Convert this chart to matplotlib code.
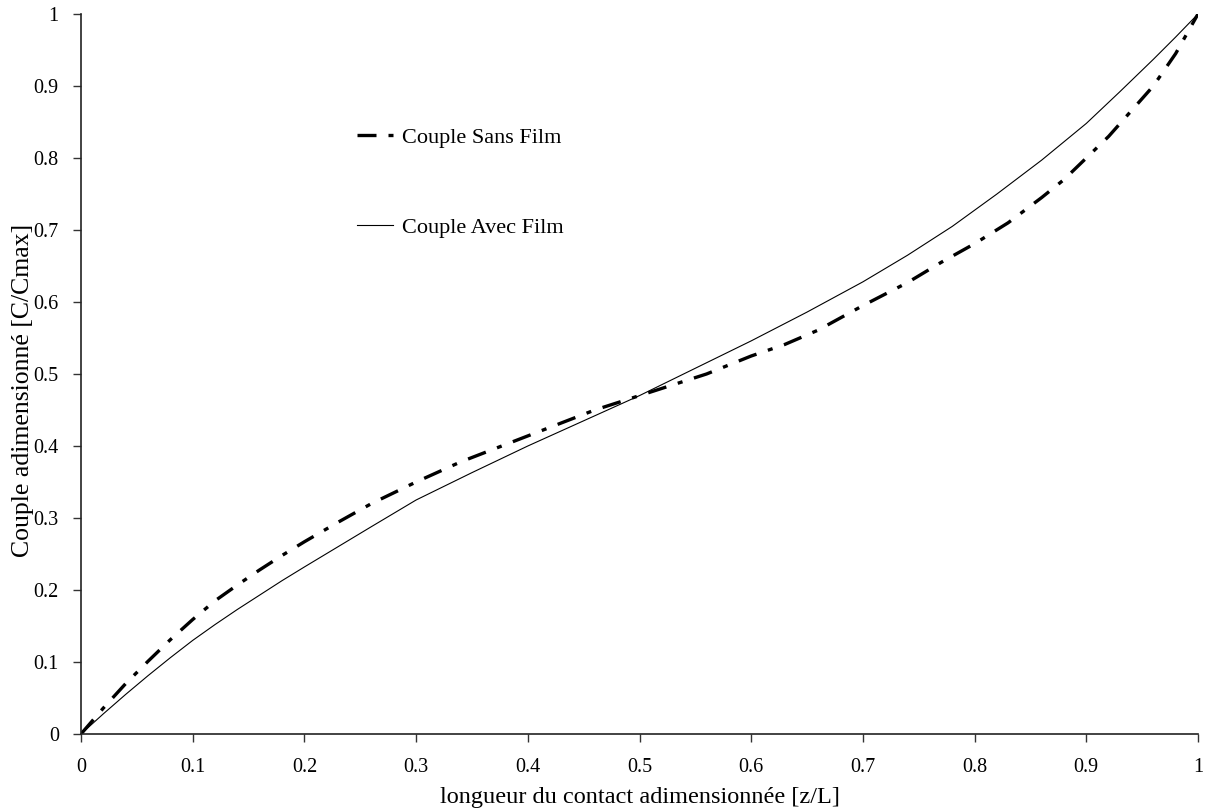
import matplotlib
matplotlib.use("Agg")
import matplotlib.pyplot as plt

plt.rcParams['font.family'] = ['Liberation Serif', 'DejaVu Serif']

# Data
x_sans = [0.0, 0.02, 0.04, 0.06, 0.08, 0.10, 0.12, 0.14, 0.16, 0.18, 0.20, 0.23, 0.26,
          0.30, 0.34, 0.38, 0.42, 0.46, 0.50, 0.53, 0.56, 0.60, 0.63, 0.66, 0.70, 0.74,
          0.77, 0.80, 0.83, 0.86, 0.88, 0.90, 0.92, 0.94, 0.96, 0.98, 1.0]
y_sans = [0.0, 0.036, 0.07, 0.101, 0.131, 0.159, 0.185, 0.207, 0.228, 0.248, 0.267, 0.294, 0.32,
          0.35, 0.378, 0.402, 0.426, 0.45, 0.47, 0.485, 0.50, 0.525, 0.541, 0.561, 0.595, 0.627,
          0.655, 0.681, 0.71, 0.745, 0.77, 0.80, 0.83, 0.865, 0.90, 0.945, 1.0]

x_avec = [0.0, 0.02, 0.04, 0.06, 0.08, 0.10, 0.12, 0.14, 0.16, 0.18, 0.20, 0.23, 0.26,
          0.30, 0.35, 0.40, 0.45, 0.50, 0.55, 0.60, 0.65, 0.70, 0.74, 0.78, 0.82, 0.86,
          0.90, 0.93, 0.96, 0.98, 1.0]
y_avec = [0.0, 0.028, 0.055, 0.081, 0.106, 0.13, 0.152, 0.173, 0.193, 0.213, 0.232, 0.26, 0.288,
          0.325, 0.363, 0.40, 0.435, 0.47, 0.508, 0.546, 0.586, 0.628, 0.665, 0.705, 0.75, 0.797,
          0.848, 0.892, 0.937, 0.968, 1.0]

x_ticks = [0, 0.1, 0.2, 0.3, 0.4, 0.5, 0.6, 0.7, 0.8, 0.9, 1]
x_tick_labels = ['0', '0.1', '0.2', '0.3', '0.4', '0.5', '0.6', '0.7', '0.8', '0.9', '1']
y_ticks = [0, 0.1, 0.2, 0.3, 0.4, 0.5, 0.6, 0.7, 0.8, 0.9, 1]
y_tick_labels = ['0', '0.1', '0.2', '0.3', '0.4', '0.5', '0.6', '0.7', '0.8', '0.9', '1']

fig = plt.figure(figsize=(12.09, 8.11), dpi=100)
ax = fig.add_axes([81/1209, 1-734/811, (1198-81)/1209, (734-14)/811])

l1, = ax.plot(x_sans, y_sans, color='black', lw=2.4, label='Couple Sans Film')
l1.set_dashes((5.7, 3.6, 1.5, 3.6))
ax.plot(x_avec, y_avec, color='black', lw=0.8, label='Couple Avec Film')

ax.set_xlim(0, 1)
ax.set_ylim(0, 1)
ax.set_xticks(x_ticks)
ax.set_xticklabels(x_tick_labels)
ax.set_yticks(y_ticks)
ax.set_yticklabels(y_tick_labels)
ax.tick_params(direction='out', length=6, width=1, labelsize=14.5, color='#333333', pad=10)
ax.tick_params(axis='x', pad=11)
ax.spines['top'].set_visible(False)
ax.spines['right'].set_visible(False)
for s in ('left', 'bottom'):
    ax.spines[s].set_color('#222222')
    ax.spines[s].set_linewidth(1.2)
ax.margins(0)

ax.set_xlabel('longueur du contact adimensionnée [z/L]', fontsize=17.5)
ax.xaxis.set_label_coords(0.5, -(787 - 734) / 720)
ax.set_ylabel('Couple adimensionné [C/Cmax]', fontsize=18.5)
ax.yaxis.set_label_coords((34 - 81) / 1117, (734 - 390) / 720)

ax.legend(loc='upper left', bbox_to_anchor=((357 - 81) / 1117, 0.843), frameon=False,
          fontsize=16, handlelength=1.62, handletextpad=0.4, labelspacing=3.15,
          borderpad=0, borderaxespad=0)

fig.savefig('out.png', dpi=100)
